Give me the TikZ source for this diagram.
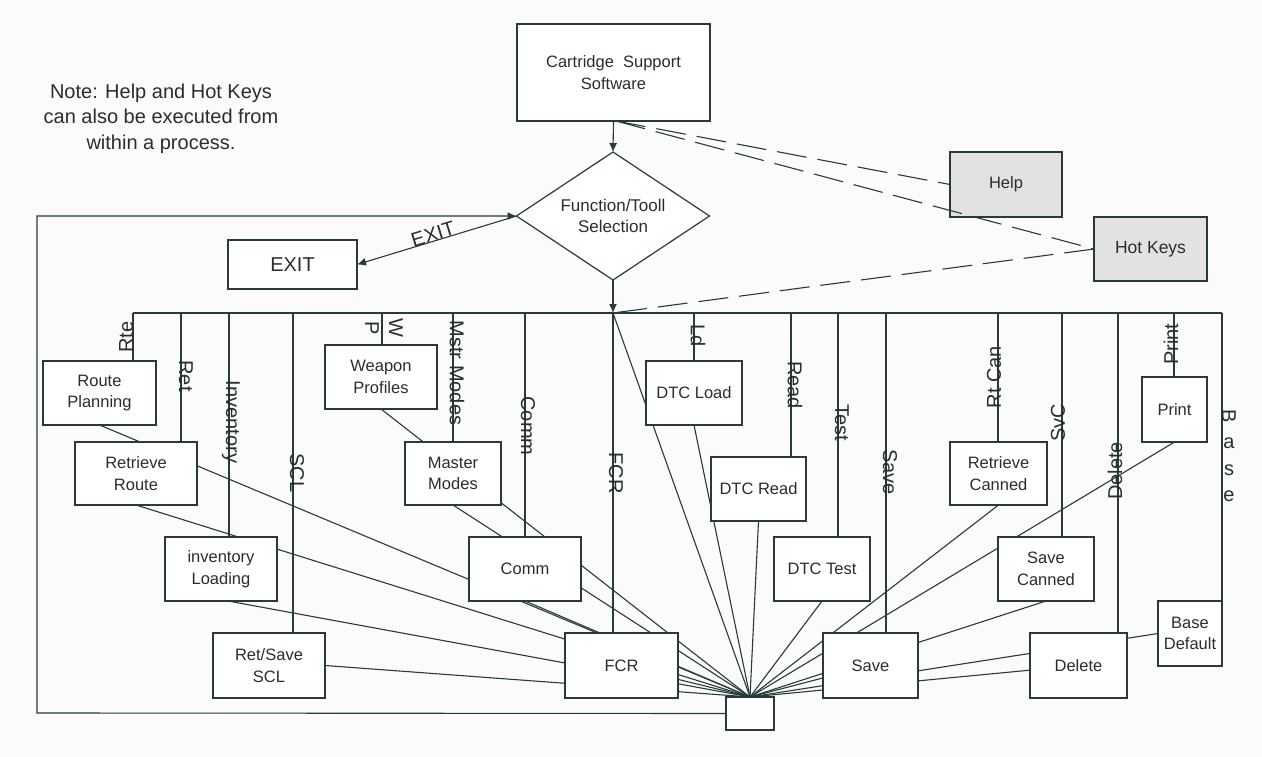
\documentclass[tikz,border=0pt]{standalone}
\usepackage{fontspec}
\setmainfont{Liberation Sans}
\usetikzlibrary{arrows.meta,shapes.geometric,calc}
\definecolor{ln}{RGB}{40,58,58}
\definecolor{tx}{RGB}{40,46,46}
\definecolor{boxgray}{RGB}{226,226,226}
\definecolor{bgc}{RGB}{251,251,251}
\pgfdeclarelayer{back}
\pgfdeclarelayer{conn}
\pgfsetlayers{back,conn,main}
\begin{document}
\begin{tikzpicture}[x=1pt,y=-1pt,
  box/.style={draw=ln, line width=1.2pt, fill=white, inner sep=0pt, outer sep=0pt, align=center, text=tx, font=\fontsize{16.5}{21.5}\selectfont},
  gbox/.style={box, fill=boxgray},
  vlab/.style={text=tx, font=\fontsize{20}{24}\selectfont, inner sep=0pt, align=center},
  link/.style={draw=ln, line width=1.1pt},
  dsh/.style={draw=ln, line width=1.1pt, dash pattern=on 30pt off 11pt},
  arr/.style={-{Latex[length=9pt,width=8pt]}}
]
\begin{pgfonlayer}{back}
\fill[bgc] (0,0) rectangle (1262,757);
\end{pgfonlayer}
\useasboundingbox (0,0) rectangle (1262,757);

% note
\node[text=tx, font=\fontsize{20}{25.5}\selectfont, align=center, inner sep=0pt] (note) at (161,118.5) {Note: Help and Hot Keys\\can also be executed from\\within a process.};

% top nodes
\node[box, minimum width=193pt, minimum height=97pt] (css) at (613.5,72.5) {Cartridge\ \ Support\\Software};
\node[diamond, aspect=1.5, draw=ln, line width=1.2pt, fill=white, inner sep=0pt, outer sep=0pt, minimum width=193pt, minimum height=128pt, align=center, text=tx, font=\fontsize{17}{21.5}\selectfont] (dia) at (613,216) {Function/Tooll\\Selection};
\node[box, minimum width=129pt, minimum height=49pt, font=\fontsize{20}{24}\selectfont] (exit) at (292.5,264.5) {EXIT};
\node[gbox, minimum width=112pt, minimum height=65pt] (help) at (1006,184.5) {Help};
\node[gbox, minimum width=113pt, minimum height=64pt, font=\fontsize{17.5}{21}\selectfont] (hot) at (1150.5,249) {Hot Keys};

% function boxes
\node[box, minimum width=113pt, minimum height=64pt] (rp) at (99.5,393) {Route\\Planning};
\node[box, minimum width=122pt, minimum height=63pt] (rr) at (136,473.5) {Retrieve\\Route};
\node[box, minimum width=112pt, minimum height=64pt] (il) at (221,569) {inventory\\Loading};
\node[box, minimum width=112pt, minimum height=65pt] (rs) at (269,665.5) {Ret/Save\\SCL};
\node[box, minimum width=112pt, minimum height=64pt] (wp) at (381,377) {Weapon\\Profiles};
\node[box, minimum width=96pt, minimum height=63pt] (mm) at (453,473.5) {Master\\Modes};
\node[box, minimum width=112pt, minimum height=64pt] (cm) at (525,569) {Comm};
\node[box, minimum width=113pt, minimum height=65pt] (fcr) at (621.5,665.5) {FCR};
\node[box, minimum width=96pt, minimum height=64pt] (dl) at (694,393) {DTC Load};
\node[box, minimum width=95pt, minimum height=64pt] (dr) at (758.5,489) {DTC Read};
\node[box, minimum width=96pt, minimum height=64pt] (dt) at (822,569) {DTC Test};
\node[box, minimum width=95pt, minimum height=65pt] (sv) at (870.5,665.5) {Save};
\node[box, minimum width=97pt, minimum height=63pt] (rc) at (998.5,473.5) {Retrieve\\Canned};
\node[box, minimum width=96pt, minimum height=64pt] (sc) at (1046,569) {Save\\Canned};
\node[box, minimum width=97pt, minimum height=65pt] (de) at (1078.5,665.5) {Delete};
\node[box, minimum width=65pt, minimum height=65pt] (pr) at (1174.5,409.5) {Print};
\node[box, minimum width=64pt, minimum height=65pt] (bd) at (1190,633.5) {Base\\Default};
\node[box, minimum width=48pt, minimum height=33pt] (small) at (750,713.5) {};

% coordinates
\coordinate (bus) at (613,313);
\coordinate (busL) at (133,313);
\coordinate (busR) at (1222,313);
\coordinate (fbl) at (37,713);
\coordinate (ftl) at (37,216);
\coordinate (cssd) at (616,121);

\begin{pgfonlayer}{conn}
% bus
\draw[link] (busL) -- (busR);
\foreach \x/\n in {133/rp,181/rr,229/il,293/rs,382/wp,453/mm,525/cm,613/fcr,694/dl,791/dr,838/dt,886/sv,998/rc,1062/sc,1118/de,1174/pr,1222/bd}{
  \coordinate (d\n) at (\x,313);
  \draw[link] (d\n) -- (d\n |- \n.north);
}
% converging lines
\foreach \s in {rp.south,rr.south,rs.east,wp.south,mm.south,cm.south,fcr.center,bus,dl.south,dr.south,dt.south,sv.center,rc.south,sc.south,pr.south,de.center,bd.west}{
  \draw[link] (\s) -- (small.north);
}
\draw[link] ([xshift=7pt]il.south) -- (small.north);
% frame and exit
\draw[link, arr] (small.west) -- (fbl) -- (ftl) -- (dia.west);
\draw[link, arr] (dia.west) -- (exit.east);
\draw[link, arr] (css.south) -- (dia.north);
\draw[link, arr] (dia.south) -- (bus);
\end{pgfonlayer}

% dashed
\draw[dsh] (cssd) -- (help.west);
\draw[dsh] (cssd) -- (hot.west);
\draw[dsh] (hot.west) -- (bus);

% EXIT label
\node[text=tx, font=\fontsize{20}{24}\selectfont, inner sep=0pt, rotate=16.9] (exitlab) at (433,234) {EXIT};

% line labels
\node[vlab, rotate=90] (lrte) at (126,337) {Rte};
\node[vlab, rotate=-90] (lret) at (186,376) {Ret};
\node[vlab, rotate=-90] (linv) at (231,422) {Inventory};
\node[vlab, rotate=-90] (lscl) at (297,473) {SCL};
\node[vlab, rotate=-90] (lwp) at (384,328) {W\\P};
\node[vlab, rotate=-90] (lmm) at (457,373) {Mstr Modes};
\node[vlab, rotate=-90] (lcm) at (528,426) {Comm};
\node[vlab, rotate=-90] (lfcr) at (616,473) {FCR};
\node[vlab, rotate=-90] (lld) at (698,336) {Ld};
\node[vlab, rotate=-90] (lrd) at (795,385) {Read};
\node[vlab, rotate=-90] (lts) at (842,423) {Test};
\node[vlab, rotate=-90] (lsv) at (890,472) {Save};
\node[vlab, rotate=90] (lrc) at (994,377) {Rt Can};
\node[vlab, rotate=90] (lsc) at (1058,423) {SvC};
\node[vlab, rotate=90] (lde) at (1115,471) {Delete};
\node[vlab, rotate=90] (lpr) at (1171,344) {Print};
\node[vlab, rotate=-90] (lb1) at (1229,416) {B};
\node[vlab] (lb2) at (1229,443) {a};
\node[vlab] (lb3) at (1229,470) {s};
\node[vlab] (lb4) at (1229,496) {e};
\end{tikzpicture}
\end{document}
